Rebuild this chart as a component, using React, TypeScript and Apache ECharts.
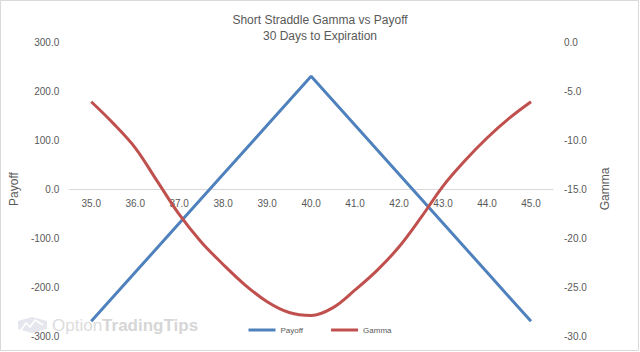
import React, { useEffect, useRef } from "react";
import * as echarts from "echarts";

const strikes = [35, 36, 37, 38, 39, 40, 41, 42, 43, 44, 45];
const tickLabels = ["35.0", "36.0", "37.0", "38.0", "39.0", "40.0", "41.0", "42.0", "43.0", "44.0", "45.0"];
const payoff = [-270, -170, -70, 30, 130, 230, 130, 30, -70, -170, -270];
const gammaPrices = [35, 35.5, 36, 36.5, 37, 37.5, 38, 38.5, 39, 39.5, 40, 40.5, 41, 41.5, 42, 42.5, 43, 43.5, 44, 44.5, 45];
const gamma = [-6.1, -8.3, -10.8, -14.2, -17.6, -20.4, -22.7, -24.8, -26.5, -27.6, -27.9, -27.1, -25.3, -23.3, -20.9, -17.9, -14.7, -12.1, -9.8, -7.8, -6.1];
const payoffTicks = { min: -300, max: 300, interval: 100 };
const gammaTicks = { min: -30, max: 0, interval: 5 };

const FONT = "'Liberation Sans', Arial, sans-serif";
const TXT = "#595959";

export default function App() {
  const ref = useRef<HTMLDivElement>(null);
  useEffect(() => {
    document.body.style.margin = "0";
    if (!ref.current) return;
    const chart = echarts.init(ref.current, null, { renderer: "svg" });
    chart.setOption({
      animation: false,
      backgroundColor: "#ffffff",
      textStyle: { fontFamily: FONT },
      title: {
        text: "Short Straddle Gamma vs Payoff",
        subtext: "30 Days to Expiration",
        left: "center",
        top: 9,
        itemGap: 4,
        textStyle: { fontSize: 12, fontWeight: "normal", color: TXT, fontFamily: FONT },
        subtextStyle: { fontSize: 12, color: TXT, fontFamily: FONT },
      },
      legend: {
        bottom: 13,
        left: "center",
        icon: "rect",
        itemWidth: 27,
        itemHeight: 3,
        itemGap: 28,
        textStyle: { fontSize: 8, color: TXT, fontFamily: FONT },
        data: ["Payoff", "Gamma"],
      },
      grid: { left: 62, right: 87, top: 42, bottom: 16, containLabel: false },
      xAxis: {
        type: "value",
        min: 34.5,
        max: 45.5,
        position: "bottom",
        offset: -147,
        axisLine: { show: true, onZero: false, lineStyle: { color: "#d9d9d9", width: 1 } },
        axisTick: { show: false },
        axisLabel: {
          color: TXT,
          fontSize: 10,
          margin: 9,
          fontFamily: FONT,
          customValues: strikes,
          formatter: (v: number) => tickLabels[strikes.indexOf(v)] ?? v.toFixed(1),
        },
        splitLine: { show: false },
      },
      yAxis: [
        {
          type: "value",
          min: payoffTicks.min,
          max: payoffTicks.max,
          interval: payoffTicks.interval,
          name: "Payoff",
          nameLocation: "middle",
          nameRotate: 90,
          nameGap: 45,
          nameTextStyle: { fontSize: 12, color: TXT, fontFamily: FONT },
          axisLine: { show: false },
          axisTick: { show: false },
          splitLine: { show: false },
          axisLabel: { color: TXT, fontSize: 10, margin: 10, fontFamily: FONT, formatter: (v: number) => v.toFixed(1) },
        },
        {
          type: "value",
          min: gammaTicks.min,
          max: gammaTicks.max,
          interval: gammaTicks.interval,
          name: "Gamma",
          nameLocation: "middle",
          nameRotate: 90,
          nameGap: 46,
          nameTextStyle: { fontSize: 12, color: TXT, fontFamily: FONT },
          axisLine: { show: false, onZero: false },
          axisTick: { show: false },
          splitLine: { show: false },
          axisLabel: { color: TXT, fontSize: 10, margin: 11, fontFamily: FONT, formatter: (v: number) => v.toFixed(1) },
        },
      ],
      graphic: [
        {
          type: "rect",
          shape: { x: 0.5, y: 0.5, width: 638, height: 350 },
          style: { fill: "none", stroke: "#d9d9d9", lineWidth: 1 },
          silent: true,
          z: -1,
        },
        {
          type: "group",
          left: 18,
          top: 317,
          z: -1,
          silent: true,
          children: [
            {
              type: "polygon",
              shape: { points: [[0, 4], [14, 0], [29, 4], [29, 12], [14, 16], [0, 12]] },
              style: { fill: "#e6e6ee" },
            },
            {
              type: "polyline",
              shape: { points: [[3, 13], [8, 6], [12, 10], [17, 3], [25, 8]] },
              style: { stroke: "#ffffff", lineWidth: 1.5, fill: "none" },
            },
            {
              type: "text",
              x: 34,
              y: 0,
              style: {
                text: "{a|Option}{b|TradingTips}",
                rich: {
                  a: { fontSize: 17, fontFamily: FONT, fill: "#dcdcdc", fontWeight: "normal" },
                  b: { fontSize: 17, fontFamily: FONT, fill: "#d6d6d6", fontWeight: "bold" },
                },
              },
            },
          ],
        },
      ],
      series: [
        {
          name: "Payoff",
          type: "line",
          yAxisIndex: 0,
          data: strikes.map((s, i) => [s, payoff[i]]),
          showSymbol: false,
          symbol: "none",
          lineStyle: { color: "#4f81bd", width: 3 },
          itemStyle: { color: "#4f81bd" },
          z: 3,
        },
        {
          name: "Gamma",
          type: "line",
          yAxisIndex: 1,
          data: gammaPrices.map((s, i) => [s, gamma[i]]),
          smooth: 0.35,
          showSymbol: false,
          symbol: "none",
          lineStyle: { color: "#c0504d", width: 3 },
          itemStyle: { color: "#c0504d" },
          z: 4,
        },
      ],
    });
    return () => chart.dispose();
  }, []);
  return <div ref={ref} style={{ position: "absolute", left: 0, top: 0, width: 640, height: 352 }} />;
}
